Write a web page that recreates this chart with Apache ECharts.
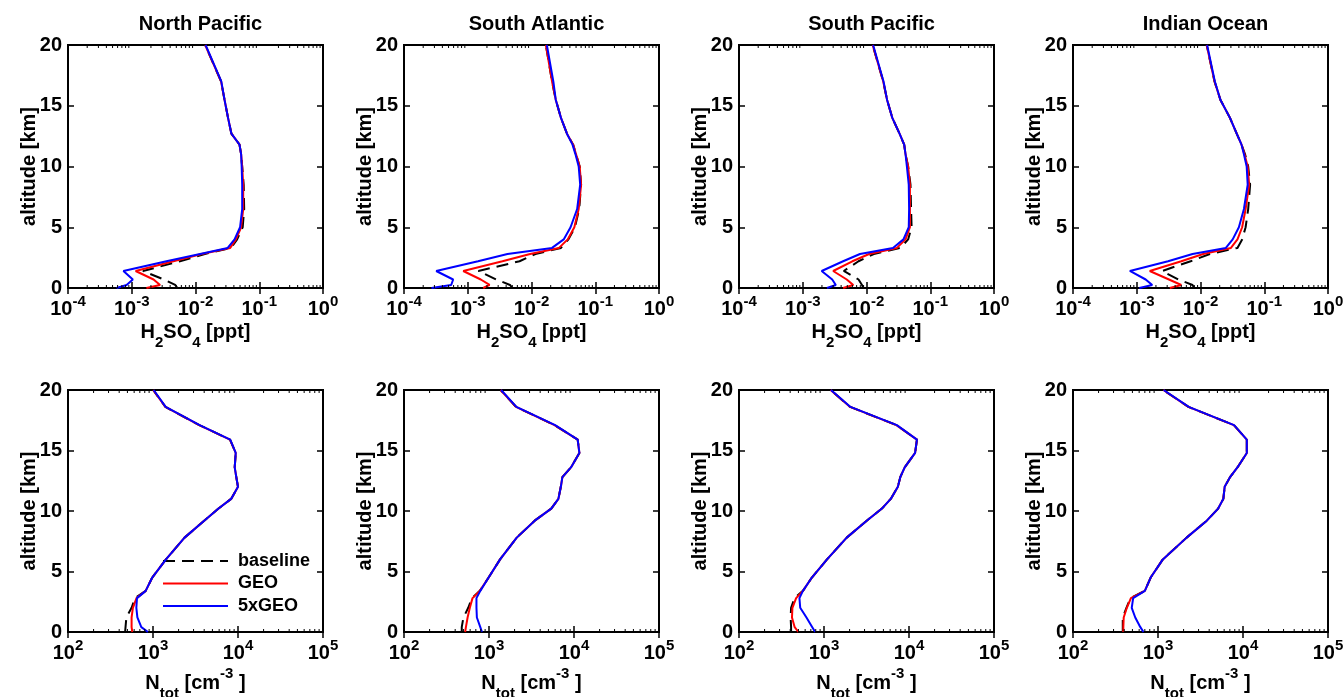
<!DOCTYPE html>
<html><head><meta charset="utf-8">
<script src="https://cdn.jsdelivr.net/npm/echarts@6/dist/echarts.min.js"></script>
<style>html,body{margin:0;padding:0;background:#fff}#c{width:1343px;height:697px}</style>
</head><body><div id="c"></div><script>
// ---------------- data ----------------
const REGIONS = ['North Pacific', 'South Atlantic', 'South Pacific', 'Indian Ocean'];
const SERIES_NAMES = ['baseline', 'GEO', '5xGEO'];

// H2SO4 [ppt] profiles (top row)
const ALT_H2SO4 = [0, 0.25, 0.7, 1.4, 2.2, 2.8, 3.3, 4, 5, 6.5, 8.5, 10, 11, 11.8, 12.7, 14, 15.5, 17, 20];
const NP_H2SO4_BASE = [5.2e-3, 4.8e-3, 3.2e-3, 1.5e-3, 5.7e-3, 0.014, 0.036, 0.045, 0.055, 0.058, 0.057, 0.054, 0.052, 0.049, 0.0366, 0.0324, 0.0285, 0.0252, 0.0142];
const NP_H2SO4_GEO  = [1.7e-3, 2.78e-3, 2.2e-3, 1.15e-3, 4.5e-3, 0.0125, 0.035, 0.043, 0.052, 0.056, 0.056, 0.054, 0.052, 0.049, 0.0366, 0.0324, 0.0285, 0.0252, 0.0142];
const NP_H2SO4_5GEO = [5.8e-4, 8.3e-4, 1.04e-3, 7.4e-4, 3.5e-3, 0.0118, 0.032, 0.041, 0.050, 0.054, 0.054, 0.053, 0.052, 0.049, 0.0366, 0.0324, 0.0285, 0.0254, 0.0144];
const SA_H2SO4_BASE = [5e-3, 4.6e-3, 2.8e-3, 1.47e-3, 6.5e-3, 0.0115, 0.029, 0.038, 0.048, 0.056, 0.060, 0.057, 0.050, 0.045, 0.036, 0.029, 0.024, 0.021, 0.0168];
const SA_H2SO4_GEO  = [1.75e-3, 2.2e-3, 1.6e-3, 8.5e-4, 3.5e-3, 9.5e-3, 0.027, 0.037, 0.047, 0.055, 0.060, 0.057, 0.050, 0.045, 0.036, 0.029, 0.024, 0.021, 0.0168];
const SA_H2SO4_5GEO = [2.7e-4, 5.5e-4, 5.9e-4, 3.2e-4, 1.45e-3, 4.2e-3, 0.021, 0.032, 0.041, 0.052, 0.058, 0.055, 0.049, 0.044, 0.036, 0.029, 0.024, 0.022, 0.0174];
const SP_H2SO4_BASE = [8.9e-3, 8.5e-3, 7.5e-3, 4.4e-3, 7.5e-3, 0.013, 0.034, 0.045, 0.051, 0.050, 0.049, 0.045, 0.041, 0.039, 0.033, 0.0254, 0.021, 0.0183, 0.0125];
const SP_H2SO4_GEO  = [4.3e-3, 6.2e-3, 4.9e-3, 3.0e-3, 6.0e-3, 0.011, 0.030, 0.041, 0.048, 0.048, 0.048, 0.045, 0.041, 0.039, 0.033, 0.0254, 0.021, 0.0183, 0.0125];
const SP_H2SO4_5GEO = [2.4e-3, 3.3e-3, 2.9e-3, 1.98e-3, 4.3e-3, 7.9e-3, 0.026, 0.038, 0.046, 0.0466, 0.046, 0.043, 0.041, 0.039, 0.033, 0.0254, 0.021, 0.0185, 0.0127];
const IO_H2SO4_BASE = [8e-3, 7.5e-3, 4.5e-3, 2.5e-3, 7e-3, 0.014, 0.038, 0.045, 0.051, 0.056, 0.060, 0.056, 0.050, 0.044, 0.037, 0.029, 0.0205, 0.0166, 0.0125];
const IO_H2SO4_GEO  = [3.3e-3, 5.0e-3, 3.2e-3, 1.6e-3, 5e-3, 0.011, 0.030, 0.038, 0.045, 0.051, 0.058, 0.055, 0.049, 0.044, 0.037, 0.029, 0.0205, 0.0166, 0.0125];
const IO_H2SO4_5GEO = [1.1e-3, 1.75e-3, 1.38e-3, 7.8e-4, 3.1e-3, 7.5e-3, 0.025, 0.032, 0.040, 0.048, 0.055, 0.053, 0.048, 0.044, 0.037, 0.029, 0.0205, 0.0168, 0.0127];

// N_tot [cm^-3] profiles (bottom row)
const ALT_NTOT = [0, 0.4, 1.2, 2.0, 2.8, 3.4, 4.5, 6, 7.8, 9.2, 10.2, 11, 12, 12.8, 13.6, 14.8, 15.9, 17.1, 18.6, 20];
const NP_NTOT_BASE = [470, 475, 486, 560, 615, 820, 980, 1420, 2350, 4000, 5900, 8300, 10000, 9550, 9150, 9400, 8050, 3500, 1400, 1005];
const NP_NTOT_GEO  = [571, 560, 560, 580, 640, 820, 980, 1420, 2350, 4000, 5900, 8300, 10000, 9550, 9150, 9400, 8050, 3500, 1400, 1005];
const NP_NTOT_5GEO = [873, 729, 655, 637, 648, 820, 980, 1420, 2350, 4000, 5900, 8300, 10000, 9550, 9150, 9400, 8100, 3540, 1409, 1018];
const SA_NTOT_BASE = [478, 478, 500, 570, 630, 780, 990, 1350, 2120, 3450, 5400, 6550, 7000, 7300, 9210, 11570, 11050, 5900, 2080, 1370];
const SA_NTOT_GEO  = [524, 535, 560, 595, 640, 780, 990, 1350, 2120, 3450, 5400, 6550, 7000, 7300, 9210, 11570, 11050, 5900, 2080, 1370];
const SA_NTOT_5GEO = [826, 790, 720, 712, 712, 790, 990, 1350, 2120, 3450, 5400, 6550, 7000, 7300, 9210, 11570, 11050, 6000, 2100, 1388];
const SP_NTOT_BASE = [410, 410, 405, 410, 450, 565, 720, 1085, 1850, 3180, 4800, 6100, 7400, 7900, 8900, 11800, 12400, 7100, 2030, 1195];
const SP_NTOT_GEO  = [500, 452, 420, 425, 470, 565, 720, 1085, 1850, 3180, 4800, 6100, 7400, 7900, 8900, 11800, 12400, 7100, 2030, 1195];
const SP_NTOT_5GEO = [788, 728, 622, 525, 514, 565, 720, 1085, 1850, 3180, 4800, 6100, 7400, 7900, 8900, 11800, 12400, 7200, 2050, 1207];
const IO_NTOT_BASE = [385, 385, 385, 425, 475, 700, 820, 1140, 2170, 3750, 5100, 5870, 6085, 7040, 8600, 11090, 11090, 7800, 2280, 1155];
const IO_NTOT_GEO  = [391, 391, 395, 430, 480, 700, 820, 1140, 2170, 3750, 5100, 5870, 6085, 7040, 8600, 11090, 11090, 7800, 2280, 1155];
const IO_NTOT_5GEO = [675, 620, 540, 491, 510, 700, 820, 1140, 2170, 3750, 5100, 5870, 6085, 7040, 8600, 11090, 11090, 7850, 2300, 1164];

// axis decorations
const MINOR_H2SO4 = [2e-4,3e-4,4e-4,5e-4,6e-4,7e-4,8e-4,9e-4, 2e-3,3e-3,4e-3,5e-3,6e-3,7e-3,8e-3,9e-3, 0.02,0.03,0.04,0.05,0.06,0.07,0.08,0.09, 0.2,0.3,0.4,0.5,0.6,0.7,0.8,0.9];
const MINOR_NTOT = [200,300,400,500,600,700,800,900, 2000,3000,4000,5000,6000,7000,8000,9000, 20000,30000,40000,50000,60000,70000,80000,90000];

// ---------------- layout / build ----------------
const PANELS = [
  {row: 0, col: 0, alt: ALT_H2SO4, vals: [NP_H2SO4_BASE, NP_H2SO4_GEO, NP_H2SO4_5GEO]},
  {row: 0, col: 1, alt: ALT_H2SO4, vals: [SA_H2SO4_BASE, SA_H2SO4_GEO, SA_H2SO4_5GEO]},
  {row: 0, col: 2, alt: ALT_H2SO4, vals: [SP_H2SO4_BASE, SP_H2SO4_GEO, SP_H2SO4_5GEO]},
  {row: 0, col: 3, alt: ALT_H2SO4, vals: [IO_H2SO4_BASE, IO_H2SO4_GEO, IO_H2SO4_5GEO]},
  {row: 1, col: 0, alt: ALT_NTOT, vals: [NP_NTOT_BASE, NP_NTOT_GEO, NP_NTOT_5GEO]},
  {row: 1, col: 1, alt: ALT_NTOT, vals: [SA_NTOT_BASE, SA_NTOT_GEO, SA_NTOT_5GEO]},
  {row: 1, col: 2, alt: ALT_NTOT, vals: [SP_NTOT_BASE, SP_NTOT_GEO, SP_NTOT_5GEO]},
  {row: 1, col: 3, alt: ALT_NTOT, vals: [IO_NTOT_BASE, IO_NTOT_GEO, IO_NTOT_5GEO]}
];

const F = "'Liberation Sans', Arial, Helvetica, sans-serif";
const TXT = {fontFamily: F, fontWeight: 'bold', color: '#000'};
const GRID_LEFT = [68, 404, 739, 1073];
const GRID_W = 255;
const ROW_TOP = [45, 390];
const ROW_H = [243, 242];
const STYLES = [
  {color: '#000000', width: 2, type: [12, 7], z: 2},
  {color: '#ff0000', width: 2, type: 'solid', z: 3},
  {color: '#0000ff', width: 2, type: 'solid', z: 4}
];

const tickRich = {
  b: Object.assign({fontSize: 20, verticalAlign: 'top', padding: [5, 0, 0, 0]}, TXT),
  e: Object.assign({fontSize: 15, verticalAlign: 'top', padding: [0, 0, 0, 0]}, TXT)
};
const nameRich = {
  b: Object.assign({fontSize: 20, verticalAlign: 'top', padding: [7, 0, 0, 0]}, TXT),
  p: Object.assign({fontSize: 15, verticalAlign: 'top', padding: [0, 0, 0, 0]}, TXT),
  s: Object.assign({fontSize: 15, verticalAlign: 'top', padding: [20, 0, 0, 0]}, TXT)
};
const X_NAMES = ['{b|H}{s|2}{b|SO}{s|4}{b| [ppt]}', '{b|N}{s|tot}{b| [cm}{p|-3}{b| ]}'];
const X_RANGE = [[1e-4, 1], [1e2, 1e5]];
const MINORS = [MINOR_H2SO4, MINOR_NTOT];

const grids = [], xAxes = [], yAxes = [], series = [];
PANELS.forEach((p, i) => {
  const r = p.row, c = p.col;
  grids.push({left: GRID_LEFT[c], top: ROW_TOP[r], width: GRID_W, height: ROW_H[r],
    show: true, borderColor: '#000', borderWidth: 2, backgroundColor: 'transparent',
    containLabel: false, outerBoundsMode: 'none'});
  const tick = {show: true, inside: true, length: 6, lineStyle: {color: '#000', width: 1.5}};
  const xb = {gridIndex: i, type: 'log', logBase: 10, min: X_RANGE[r][0], max: X_RANGE[r][1],
    axisLine: {show: false}, splitLine: {show: false}, axisTick: tick};
  xAxes.push(Object.assign({}, xb, {
    position: 'bottom',
    axisLabel: {show: true, interval: 0, margin: 6, showMinLabel: true, showMaxLabel: true,
      formatter: v => '{b|10}{e|' + Math.round(Math.log10(v)) + '}', rich: tickRich},
    name: X_NAMES[r], nameLocation: 'middle', nameGap: r ? 34 : 27, nameMoveOverlap: false,
    nameTextStyle: {rich: nameRich}
  }));
  xAxes.push(Object.assign({}, xb, {position: 'top', axisLabel: {show: false}}));
  const yb = {gridIndex: i, type: 'value', min: 0, max: 20, interval: 5,
    axisLine: {show: false}, splitLine: {show: false}, axisTick: tick};
  yAxes.push(Object.assign({}, yb, {
    position: 'left',
    axisLabel: Object.assign({fontSize: 20, margin: 6}, TXT),
    name: 'altitude [km]', nameLocation: 'middle', nameGap: 29, nameRotate: 90, nameMoveOverlap: false,
    nameTextStyle: Object.assign({fontSize: 20}, TXT)
  }));
  yAxes.push(Object.assign({}, yb, {position: 'right', axisLabel: {show: false}}));

  p.vals.forEach((vals, k) => {
    const st = STYLES[k];
    series.push({
      type: 'line', name: SERIES_NAMES[k], xAxisIndex: 2 * i, yAxisIndex: 2 * i,
      data: p.alt.map((a, j) => [vals[j], a]),
      symbol: 'none', showSymbol: false, z: st.z, animation: false,
      lineStyle: {color: st.color, width: st.width, type: st.type},
      itemStyle: {color: st.color}
    });
  });

  // minor ticks on log axis (bottom and top edges), placed through the axis scale
  series.push({
    type: 'custom', xAxisIndex: 2 * i, yAxisIndex: 2 * i, silent: true, clip: false, z: 6,
    data: MINORS[r].map(v => [v, 0]),
    renderItem: (params, api) => {
      const v = api.value(0);
      const b = api.coord([v, 0]);
      const t = api.coord([v, 20]);
      return {type: 'group', children: [
        {type: 'line', shape: {x1: b[0], y1: b[1], x2: b[0], y2: b[1] - 3}, style: {stroke: '#000', lineWidth: 1}},
        {type: 'line', shape: {x1: t[0], y1: t[1], x2: t[0], y2: t[1] + 3}, style: {stroke: '#000', lineWidth: 1}}
      ]};
    },
    animation: false
  });
});

const titles = REGIONS.map((t, j) => ({
  text: t, left: GRID_LEFT[j] + GRID_W / 2, top: 9, textAlign: 'center',
  textStyle: Object.assign({fontSize: 20}, TXT)
}));

const chart = echarts.init(document.getElementById('c'));
chart.setOption({
  backgroundColor: '#fff',
  animation: false,
  title: titles,
  grid: grids,
  xAxis: xAxes,
  yAxis: yAxes,
  legend: {
    data: SERIES_NAMES, orient: 'vertical', left: 162, top: 552, padding: 0,
    itemWidth: 65, itemHeight: 14, itemGap: 4.5,
    itemStyle: {opacity: 0},
    textStyle: Object.assign({fontSize: 18, padding: [0, 0, 0, 5]}, TXT),
    selectedMode: false
  },
  series: series
});
</script></body></html>
